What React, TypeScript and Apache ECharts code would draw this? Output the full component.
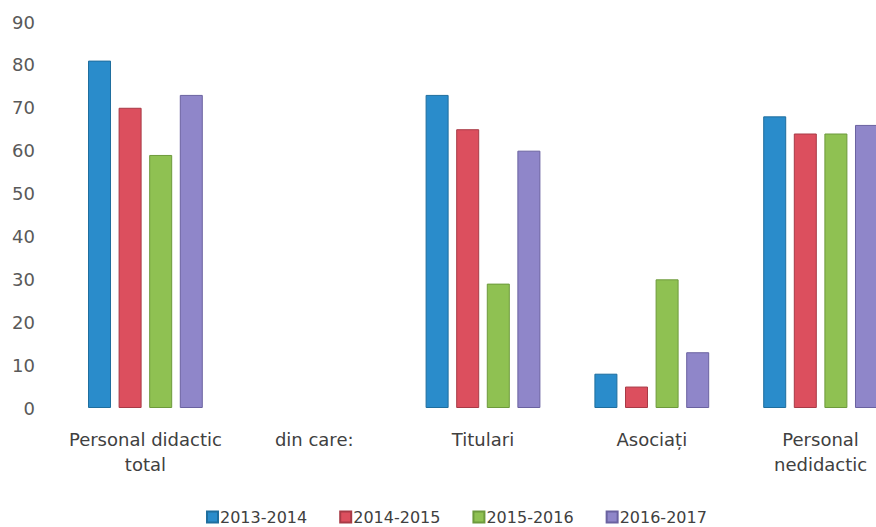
import React, { useEffect, useRef } from "react";
import * as echarts from "echarts";

const categories = ["Personal didactic\ntotal", "din care:", "Titulari", "Asociați", "Personal\nnedidactic"];
const seriesNames = ["2013-2014", "2014-2015", "2015-2016", "2016-2017"];
const s2013 = [81, null, 73, 8, 68];
const s2014 = [70, null, 65, 5, 64];
const s2015 = [59, null, 29, 30, 64];
const s2016 = [73, null, 60, 13, 66];
const colors = ["#2a8ccb", "#dc4f5e", "#8fc152", "#8f86c9"];
const borders = ["#1f6e9e", "#a83a46", "#6d9a3c", "#6a62a0"];

export default function App() {
  const ref = useRef<HTMLDivElement>(null);
  useEffect(() => {
    document.body.style.margin = "0";
    document.body.style.overflow = "hidden";
    document.documentElement.style.overflow = "hidden";
    const chart = echarts.init(ref.current!, null, { renderer: "svg" });
    const data = [s2013, s2014, s2015, s2016];
    chart.setOption({
      animation: false,
      backgroundColor: "#ffffff",
      textStyle: { fontFamily: "DejaVu Sans" },
      grid: { left: 61, right: 5, top: 22, bottom: 119, containLabel: false },
      legend: {
        bottom: -3,
        left: 201,
        itemWidth: 11,
        itemHeight: 11,
        itemGap: 32,
        icon: "rect",
        textStyle: { fontSize: 16, color: "#404040", fontFamily: "DejaVu Sans", padding: [0, 0, 0, -3] },
        data: seriesNames,
      },
      xAxis: {
        type: "category",
        data: categories,
        axisLine: { show: false },
        axisTick: { show: false },
        axisLabel: { fontSize: 18, color: "#404040", margin: 19, lineHeight: 25, interval: 0 },
      },
      yAxis: {
        type: "value",
        min: 0,
        max: 90,
        interval: 10,
        axisLine: { show: false },
        axisTick: { show: false },
        splitLine: { show: false },
        axisLabel: { fontSize: 18, color: "#595959", margin: 26 },
      },
      series: data.map((d, i) => ({
        name: seriesNames[i],
        type: "bar",
        data: d,
        barCategoryGap: "32%",
        barGap: "33%",
        itemStyle: { color: colors[i], borderColor: borders[i], borderWidth: 1 },
      })),
    });
    return () => chart.dispose();
  }, []);
  return <div ref={ref} style={{ position: "absolute", left: 0, top: 0, width: 910, height: 527 }} />;
}
